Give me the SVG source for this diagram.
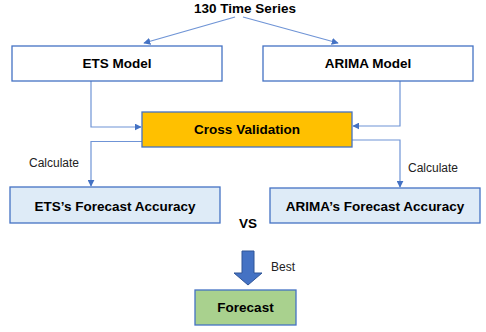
<svg xmlns="http://www.w3.org/2000/svg" width="486" height="332" viewBox="0 0 486 332">
  <defs>
    <marker id="tri" viewBox="0 0 10 10" refX="9" refY="5" markerWidth="7" markerHeight="7" markerUnits="userSpaceOnUse" orient="auto">
      <path d="M0,0 L10,5 L0,10 Z" fill="#4472C4"/>
    </marker>
    <style>
      .box { stroke: #4472C4; stroke-width: 1.3; }
      .model { fill: #FFFFFF; }
      .cv { fill: #FFC000; }
      .acc { fill: #DEEBF7; }
      .fc { fill: #A9D18E; }
      .lbl { font-family: "Liberation Sans", Arial, sans-serif; font-weight: bold; font-size: 13.5px; fill: #000; text-anchor: middle; dominant-baseline: central; }
      .note { font-family: "Liberation Sans", Arial, sans-serif; font-size: 12px; fill: #222; }
      .conn { fill: none; stroke: #6F94D6; stroke-width: 1.2; marker-end: url(#tri); }
    </style>
  </defs>
  <rect width="486" height="332" fill="#FFFFFF"/>

  <g id="connectors">
    <path class="conn" d="M235,17 L144,43"/>
    <path class="conn" d="M243,17 L338,43"/>
    <path class="conn" d="M91,81 L91,127 L141,127"/>
    <path class="conn" d="M400,81 L400,126 L353,126"/>
    <path class="conn" d="M144,141.5 L91,141.5 L91,186"/>
    <path class="conn" d="M352,140 L400,140 L400,187"/>
  </g>

  <g id="title">
    <text class="lbl" x="245" y="8">130 Time Series</text>
  </g>

  <g id="ets-model">
    <rect class="box model" x="12" y="46" width="210" height="35"/>
    <text class="lbl" x="117" y="63.5">ETS Model</text>
  </g>

  <g id="arima-model">
    <rect class="box model" x="263" y="46" width="210" height="35"/>
    <text class="lbl" x="368" y="63.5">ARIMA Model</text>
  </g>

  <g id="cross-validation">
    <rect class="box cv" x="142" y="112" width="210" height="35"/>
    <text class="lbl" x="247" y="129.5">Cross Validation</text>
  </g>

  <g id="calc-left">
    <text class="note" x="29" y="167">Calculate</text>
  </g>
  <g id="calc-right">
    <text class="note" x="408" y="172">Calculate</text>
  </g>

  <g id="ets-accuracy">
    <rect class="box acc" x="10" y="187" width="210" height="36"/>
    <text class="lbl" x="115" y="206">ETS’s Forecast Accuracy</text>
  </g>

  <g id="arima-accuracy">
    <rect class="box acc" x="270" y="188" width="210" height="35"/>
    <text class="lbl" x="375" y="206">ARIMA’s Forecast Accuracy</text>
  </g>

  <g id="vs">
    <text class="lbl" x="248" y="223">VS</text>
  </g>

  <g id="best-arrow">
    <path d="M242,251 L254,251 L254,273 L262,273 L248,285 L234,273 L242,273 Z" fill="#4472C4" stroke="#2F5597" stroke-width="1"/>
    <text class="note" x="271" y="271">Best</text>
  </g>

  <g id="forecast">
    <rect class="box fc" x="195" y="290" width="101" height="35"/>
    <text class="lbl" x="245.5" y="307">Forecast</text>
  </g>
</svg>
